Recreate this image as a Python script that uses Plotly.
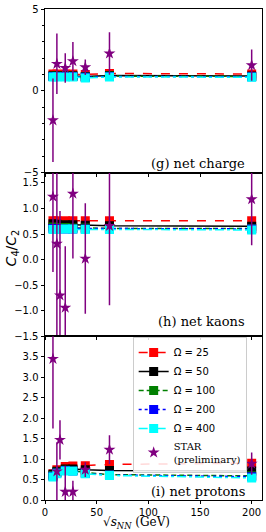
import plotly.graph_objects as go
from plotly.subplots import make_subplots

# ---- data ----
model_x = [7.7, 11.5, 19.6, 27, 39, 62.4, 200]
omega_labels = ["Ω = 25", "Ω = 50", "Ω = 100", "Ω = 200", "Ω = 400"]

charge_o25 = [1.03, 1.03, 1.03, 1.03, 1.00, 1.06, 1.03]
charge_o50 = [0.92, 0.92, 0.92, 0.92, 0.88, 0.94, 0.90]
charge_o100 = [0.89, 0.89, 0.89, 0.89, 0.85, 0.90, 0.88]
charge_o200 = [0.87, 0.87, 0.87, 0.87, 0.83, 0.88, 0.86]
charge_o400 = [0.84, 0.84, 0.84, 0.84, 0.79, 0.85, 0.83]

kaon_o25 = [0.76, 0.76, 0.76, 0.76, 0.76, 0.76, 0.76]
kaon_o50 = [0.70, 0.69, 0.68, 0.68, 0.67, 0.66, 0.65]
kaon_o100 = [0.64, 0.63, 0.63, 0.62, 0.62, 0.61, 0.61]
kaon_o200 = [0.61, 0.61, 0.60, 0.60, 0.60, 0.60, 0.60]
kaon_o400 = [0.59, 0.59, 0.60, 0.60, 0.59, 0.59, 0.58]

proton_o25 = [0.64, 0.74, 0.82, 0.83, 0.84, 0.87, 0.90]
proton_o50 = [0.63, 0.70, 0.76, 0.76, 0.74, 0.72, 0.71]
proton_o100 = [0.60, 0.68, 0.73, 0.72, 0.67, 0.62, 0.59]
proton_o200 = [0.58, 0.66, 0.72, 0.71, 0.65, 0.61, 0.57]
proton_o400 = [0.56, 0.64, 0.71, 0.70, 0.64, 0.60, 0.54]

star_charge_x = [7.7, 11.5, 19.6, 27, 39, 62.4, 200]
star_charge_y = [-1.80, 1.65, 1.40, 1.81, 1.44, 2.28, 1.57]
star_charge_err = [2.55, 1.85, 0.90, 1.18, 0.47, 1.30, 0.95]

star_kaon_x = [7.7, 11.5, 14.5, 19.6, 27, 39, 62.4, 200]
star_kaon_y = [1.23, 0.31, -0.70, -0.94, 1.29, 0.02, 0.66, 1.18]
star_kaon_err = [1.47, 2.20, 1.65, 1.20, 1.27, 1.08, 1.55, 0.90]

star_proton_x = [7.7, 11.5, 14.5, 19.6, 27, 39, 62.4, 200]
star_proton_y = [3.45, 0.70, 1.47, 0.20, 0.20, 0.74, 1.23, 0.89]
star_proton_err = [1.70, 0.71, 0.48, 0.64, 0.27, 0.18, 0.35, 0.27]

x_ticks = [0, 50, 100, 150, 200]

# ---- styles ----
colors = ["#ff0000", "#000000", "#008000", "#0000ff", "#00ffff"]
dashes = ["dash", "solid", "5px,3px", "dot", "dashdot"]
purple = "#800080"

fig = make_subplots(rows=3, cols=1, shared_xaxes=True, vertical_spacing=0)

panels = [
    ([charge_o25, charge_o50, charge_o100, charge_o200, charge_o400],
     star_charge_x, star_charge_y, star_charge_err),
    ([kaon_o25, kaon_o50, kaon_o100, kaon_o200, kaon_o400],
     star_kaon_x, star_kaon_y, star_kaon_err),
    ([proton_o25, proton_o50, proton_o100, proton_o200, proton_o400],
     star_proton_x, star_proton_y, star_proton_err),
]

for r, (models, sx, sy, se) in enumerate(panels, start=1):
    for i, ys in enumerate(models):
        fig.add_trace(go.Scatter(
            x=model_x, y=ys, mode="lines+markers", name=omega_labels[i],
            legendgroup=omega_labels[i], showlegend=(r == 3),
            line=dict(color=colors[i], width=1.5, dash=dashes[i]),
            marker=dict(symbol="square", size=9, color=colors[i]),
        ), row=r, col=1)
    fig.add_trace(go.Scatter(
        x=sx, y=sy, mode="markers",
        name="<span style='font-family:DejaVu Serif'>STAR<br>(preliminary)</span>",
        legendgroup="star", showlegend=(r == 3),
        marker=dict(symbol="star", size=9, color=purple),
        error_y=dict(type="data", array=se, color=purple, thickness=1.5, width=0),
    ), row=r, col=1)

axis_common = dict(showline=True, linecolor="black", linewidth=1, mirror=True,
                   ticks="outside", tickcolor="black",
                   showgrid=False, zeroline=False,
                   tickfont=dict(family="DejaVu Sans", size=10, color="black"))

for r in (1, 2, 3):
    fig.update_xaxes(range=[0, 210], tickvals=x_ticks, showticklabels=(r == 3),
                     ticklen=3, **axis_common, row=r, col=1)

fig.update_yaxes(range=[-5, 5], tickvals=[-5, 0, 5], ticklen=3.5,
                 minor=dict(tickvals=[-4, -3, -2, -1, 1, 2, 3, 4], ticks="outside",
                            ticklen=2, tickcolor="black"),
                 **axis_common, row=1, col=1)
fig.update_yaxes(range=[-1.5, 1.7], tickvals=[-1.5, -1.0, -0.5, 0.0, 0.5, 1.0, 1.5],
                 ticklen=3.5, tickformat=".1f", **axis_common, row=2, col=1)
fig.update_yaxes(range=[0, 4], tickvals=[0, 0.5, 1.0, 1.5, 2.0, 2.5, 3.0, 3.5],
                 ticklen=3.5, tickformat=".1f", **axis_common, row=3, col=1)

serif = dict(family="DejaVu Serif", size=13, color="black")
fig.add_annotation(text="(g) net charge", xref="paper", x=0.931, xanchor="right",
                   yref="y domain", y=0.055, yanchor="middle", showarrow=False, font=serif)
fig.add_annotation(text="(h) net kaons", xref="paper", x=0.931, xanchor="right",
                   yref="y2 domain", y=0.09, yanchor="middle", showarrow=False, font=serif)
fig.add_annotation(text="(i) net protons", xref="paper", x=0.931, xanchor="right",
                   yref="y3 domain", y=0.05, yanchor="middle", showarrow=False, font=serif)

fig.add_annotation(text="<i>C</i><sub>4</sub>/<i>C</i><sub>2</sub>", xref="paper", x=-0.15,
                   xanchor="center", yref="y2 domain", y=0.54, yanchor="middle",
                   textangle=-90, showarrow=False,
                   font=dict(family="DejaVu Sans", size=14, color="black"))
fig.add_annotation(text="√<i>s</i><sub><i>NN</i></sub> (GeV)", xref="paper", x=0.42,
                   xanchor="center", yref="paper", y=-0.0645, yanchor="bottom",
                   showarrow=False, borderpad=0,
                   font=dict(family="DejaVu Serif", size=12, color="black"))

fig.update_layout(
    width=266, height=532,
    margin=dict(l=45, r=3, t=6, b=32),
    paper_bgcolor="white", plot_bgcolor="white",
    showlegend=True,
    legend=dict(x=0.404, y=0.332, xanchor="left", yanchor="top",
                bgcolor="rgba(255,255,255,0.85)", bordercolor="#cccccc", borderwidth=1,
                font=dict(family="DejaVu Sans", size=10, color="black"),
                tracegroupgap=0, itemwidth=30),
)

fig.write_html("out.html", config={"displayModeBar": False},
               post_script="document.body.style.margin='0px';document.body.style.overflow='hidden';")
